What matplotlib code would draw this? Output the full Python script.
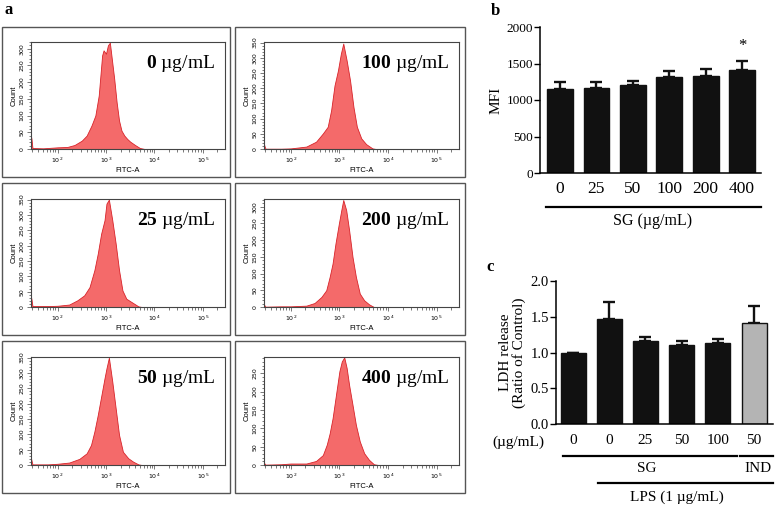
import matplotlib

matplotlib.use("Agg")
import matplotlib.pyplot as plt
from matplotlib.patches import Rectangle
from matplotlib.ticker import MultipleLocator, LogLocator, NullFormatter

plt.rcParams["mathtext.fontset"] = "custom"
plt.rcParams["mathtext.rm"] = "Liberation Serif"
plt.rcParams["mathtext.bf"] = "Liberation Serif:bold"

SERIF = "Liberation Serif"
SANS = "Liberation Sans"

# --- panel a: flow histograms (log10 FITC-A, count) ---
DOSES_A = ["0", "25", "50", "100", "200", "400"]
H0_LOGX = [1.45, 1.46, 1.48, 1.7, 2.0, 2.2, 2.35, 2.5, 2.6, 2.7, 2.78, 2.85, 2.92, 2.95, 3.0,
           3.04, 3.08, 3.12, 3.17, 3.22, 3.27, 3.32, 3.38, 3.44, 3.5, 3.6, 3.7, 3.8, 5.46]
H0_COUNT = [38, 30, 3, 2, 5, 6, 12, 25, 40, 70, 100, 160, 280, 295, 285,
            310, 318, 270, 210, 140, 85, 55, 40, 30, 22, 12, 3, 0, 0]
H25_LOGX = [1.45, 1.46, 1.48, 1.8, 2.0, 2.24, 2.41, 2.55, 2.66, 2.76, 2.83, 2.9, 2.97, 3.01,
            3.06, 3.13, 3.2, 3.27, 3.34, 3.42, 3.56, 3.67, 3.74, 5.46]
H25_COUNT = [33, 25, 3, 3, 4, 8, 22, 38, 65, 120, 174, 239, 283, 337,
             350, 283, 207, 120, 54, 27, 13, 2, 0, 0]
H50_LOGX = [1.45, 1.46, 1.48, 1.8, 2.0, 2.24, 2.45, 2.6, 2.69, 2.76, 2.83, 2.9, 2.97, 3.01,
            3.06, 3.13, 3.2, 3.27, 3.35, 3.46, 3.56, 3.67, 3.74, 5.46]
H50_COUNT = [22, 15, 2, 2, 4, 8, 20, 38, 65, 109, 163, 223, 283, 315,
             350, 272, 185, 98, 43, 22, 11, 2, 0, 0]
H100_LOGX = [1.45, 1.46, 1.48, 1.8, 2.0, 2.32, 2.52, 2.66, 2.76, 2.83, 2.9, 2.97, 3.03, 3.08,
             3.15, 3.22, 3.29, 3.36, 3.45, 3.55, 3.68, 3.75, 5.46]
H100_COUNT = [16, 10, 1, 1, 2, 8, 24, 51, 73, 127, 209, 258, 313, 347,
              291, 225, 138, 73, 35, 16, 2, 0, 0]
H200_LOGX = [1.45, 1.46, 1.48, 1.8, 2.0, 2.32, 2.49, 2.63, 2.73, 2.8, 2.86, 2.92, 2.99, 3.04,
             3.08, 3.14, 3.2, 3.27, 3.34, 3.42, 3.51, 3.61, 3.71, 5.46]
H200_COUNT = [8, 5, 1, 2, 2, 4, 12, 30, 50, 90, 130, 190, 250, 290,
              320, 290, 230, 150, 90, 40, 20, 8, 0, 0]
H400_LOGX = [1.45, 1.46, 1.48, 1.8, 2.0, 2.32, 2.52, 2.66, 2.74, 2.8, 2.86, 2.93, 3.0, 3.05,
             3.1, 3.15, 3.2, 3.27, 3.34, 3.42, 3.51, 3.61, 3.71, 3.8, 5.46]
H400_COUNT = [7, 4, 1, 2, 4, 4, 11, 27, 55, 86, 127, 191, 255, 282,
              293, 264, 218, 164, 109, 64, 32, 14, 2, 0, 0]
YMAX_A = [320, 352, 352, 352, 323, 294]
YSTEP_A = [50, 50, 50, 50, 50, 50]

# --- panel b: MFI ---
DOSES_B = ["0", "25", "50", "100", "200", "400"]
MFI_MEAN = [1150, 1160, 1200, 1310, 1330, 1410]
MFI_SEM = [90, 80, 65, 85, 90, 130]

# --- panel c: LDH release ---
DOSES_C = ["0", "0", "25", "50", "100", "50"]
LDH_MEAN = [1.0, 1.47, 1.16, 1.11, 1.13, 1.41]
LDH_SEM = [0.0, 0.24, 0.06, 0.05, 0.055, 0.24]
LDH_COLORS = ["#111111"] * 5 + ["#b4b4b4"]

W, H = 780, 518
fig = plt.figure(figsize=(W / 100, H / 100), dpi=100)


def fx(px):
    return px / W


def fy(px):
    return 1 - px / H


# -----------------------------------------------------------------------------
# panel a
# -----------------------------------------------------------------------------
hist_x = [H0_LOGX, H25_LOGX, H50_LOGX, H100_LOGX, H200_LOGX, H400_LOGX]
hist_y = [H0_COUNT, H25_COUNT, H50_COUNT, H100_COUNT, H200_COUNT, H400_COUNT]
col_box = [(2, 230), (235, 465)]
col_inner = [(31, 225), (264, 459)]
row_box = [(27, 177), (183, 335), (341, 493)]
row_inner = [(42, 149), (199, 307), (357, 465)]

fig.text(fx(9), fy(10), "a", family=SERIF, weight="bold", fontsize=12, ha="center", va="center")

for i, dose in enumerate(DOSES_A):
    col, row = i // 3, i % 3
    bx0, bx1 = col_box[col]
    by0, by1 = row_box[row]
    fig.patches.append(Rectangle((fx(bx0), fy(by1)), fx(bx1 - bx0), (by1 - by0) / H,
                                 transform=fig.transFigure, fill=False,
                                 edgecolor="#555555", lw=1.0))
    ix0, ix1 = col_inner[col]
    iy0, iy1 = row_inner[row]
    ax = fig.add_axes([fx(ix0), fy(iy1), fx(ix1 - ix0), (iy1 - iy0) / H])
    xs = [10 ** v for v in hist_x[i]]
    ax.fill_between(xs, hist_y[i], 0, facecolor="#f46a6a", edgecolor="#d8232a", lw=0.6)
    ax.set_xscale("log")
    ax.set_xlim(10 ** 1.45, 10 ** 5.46)
    ax.set_ylim(0, YMAX_A[i])
    ax.xaxis.set_major_locator(LogLocator(base=10, numticks=10))
    ax.xaxis.set_minor_locator(LogLocator(base=10, subs=range(2, 10), numticks=10))
    ax.xaxis.set_minor_formatter(NullFormatter())
    ax.yaxis.set_major_locator(MultipleLocator(YSTEP_A[i]))
    ax.yaxis.set_minor_locator(MultipleLocator(10))
    ax.tick_params(which="both", direction="out", color="#444444", width=0.5,
                   labelsize=4.5, pad=1.5)
    ax.tick_params(which="major", length=3)
    ax.tick_params(which="minor", length=1.8)
    ax.tick_params(axis="y", labelrotation=90)
    for lab in ax.get_yticklabels():
        lab.set_va("center")
    for sp in ax.spines.values():
        sp.set_color("#444444")
        sp.set_linewidth(0.8)
    ax.set_xlabel("FITC-A", family=SANS, fontsize=5.5, labelpad=1.5)
    ax.set_ylabel("Count", family=SANS, fontsize=5.5, labelpad=1.5)
    ax.text(0.95, 0.8, r"$\mathbf{%s}$ µg/mL" % dose, transform=ax.transAxes,
            ha="right", va="center", family=SERIF, fontsize=14)

# -----------------------------------------------------------------------------
# panel b
# -----------------------------------------------------------------------------
axb = fig.add_axes([fx(540), fy(173), fx(221), 146 / H])
xb = list(range(len(DOSES_B)))
axb.bar(xb, MFI_MEAN, width=0.71, color="#111111", edgecolor="#111111", zorder=2)
axb.errorbar(xb, MFI_MEAN, yerr=[[0] * len(xb), MFI_SEM], fmt="none", ecolor="#111111",
             elinewidth=1.7, capsize=4.5, capthick=1.7, zorder=1)
axb.set_xlim(-0.55, 5.52)
axb.set_ylim(0, 2000)
axb.yaxis.set_major_locator(MultipleLocator(500))
axb.set_xticks(xb)
axb.set_xticklabels(DOSES_B)
axb.tick_params(axis="x", length=0, pad=6, labelsize=12.5)
axb.tick_params(axis="y", direction="out", length=4, width=1, pad=1, labelsize=9.5)
for lab in axb.get_xticklabels() + axb.get_yticklabels():
    lab.set_family(SERIF)
for side in ("top", "right"):
    axb.spines[side].set_visible(False)
for side in ("left", "bottom"):
    axb.spines[side].set_linewidth(1.1)
axb.set_ylabel("MFI", family=SERIF, fontsize=11, labelpad=3)
axb.text(5, 1740, "*", ha="center", va="center", family=SERIF, fontsize=12)
tb = axb.get_xaxis_transform()
axb.plot([-0.38, 5.52], [-0.233, -0.233], color="k", lw=1.6, transform=tb, clip_on=False)
axb.text(2.55, -0.33, "SG (µg/mL)", transform=tb, ha="center", va="center",
         family=SERIF, fontsize=11.5)
fig.text(fx(495), fy(11), "b", family=SERIF, weight="bold", fontsize=12, ha="center", va="center")

# -----------------------------------------------------------------------------
# panel c
# -----------------------------------------------------------------------------
axc = fig.add_axes([fx(556), fy(424), fx(217), 143 / H])
xc = list(range(len(DOSES_C)))
axc.bar(xc, LDH_MEAN, width=0.69, color=LDH_COLORS, edgecolor="#111111", lw=1, zorder=2)
axc.errorbar(xc, LDH_MEAN, yerr=[[0] * len(xc), LDH_SEM], fmt="none", ecolor="#111111",
             elinewidth=1.7, capsize=4.5, capthick=1.7, zorder=1)
axc.set_xlim(-0.47, 5.52)
axc.set_ylim(0, 2.0)
axc.yaxis.set_major_locator(MultipleLocator(0.5))
axc.yaxis.set_major_formatter(plt.FormatStrFormatter("%.1f"))
axc.set_xticks(xc)
axc.set_xticklabels(DOSES_C)
axc.tick_params(axis="x", length=0, pad=7, labelsize=11)
axc.tick_params(axis="y", direction="out", length=4, width=1, pad=1, labelsize=10.5)
for lab in axc.get_xticklabels() + axc.get_yticklabels():
    lab.set_family(SERIF)
for side in ("top", "right"):
    axc.spines[side].set_visible(False)
for side in ("left", "bottom"):
    axc.spines[side].set_linewidth(1.1)
axc.set_ylabel("LDH release\n(Ratio of Control)", family=SERIF, fontsize=11,
               labelpad=3, linespacing=1.0)
tc = axc.get_xaxis_transform()
axc.text(-1.5, -0.13, "(µg/mL)", transform=tc, ha="center", va="center",
         family=SERIF, fontsize=11)
axc.plot([-0.28, 4.53], [-0.224, -0.224], color="k", lw=1.6, transform=tc, clip_on=False)
axc.plot([4.61, 5.52], [-0.224, -0.224], color="k", lw=1.6, transform=tc, clip_on=False)
axc.text(2.04, -0.31, "SG", transform=tc, ha="center", va="center", family=SERIF, fontsize=11)
axc.text(5.1, -0.31, "IND", transform=tc, ha="center", va="center", family=SERIF, fontsize=11)
axc.plot([0.69, 5.52], [-0.413, -0.413], color="k", lw=1.6, transform=tc, clip_on=False)
axc.text(2.87, -0.51, "LPS (1 µg/mL)", transform=tc, ha="center", va="center",
         family=SERIF, fontsize=11)
fig.text(fx(490), fy(267), "c", family=SERIF, weight="bold", fontsize=12, ha="center", va="center")

fig.savefig("out.png", dpi=100)
